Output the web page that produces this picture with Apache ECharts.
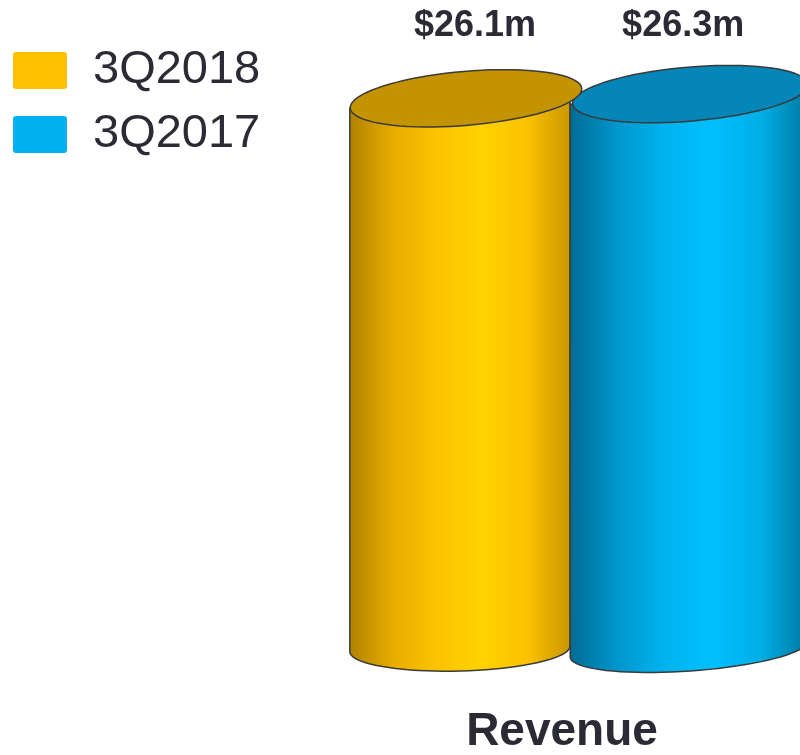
<!DOCTYPE html>
<html>
<head>
<meta charset="utf-8">
<script src="https://cdn.jsdelivr.net/npm/echarts@6/dist/echarts.min.js"></script>
<style>
  html, body { margin: 0; padding: 0; background: #fff; }
  #chart { width: 800px; height: 755px; }
</style>
</head>
<body>
<div id="chart"></div>
<script>
// data
const categories = ['Revenue']
const seriesNames = ['3Q2018', '3Q2017']
const revenue3Q2018 = [26.1]
const revenue3Q2017 = [26.3]

// look of each cylinder (offsets are fractions of the category band)
const cylStyle = [
    {
        color: '#ffc000', topColor: '#c39300', capOffset: -0.239, capHalf: 0.257,
        bodyLeft: -0.496, bodyRight: -0.009, topTilt: -4.9, bottomTilt: -1.5, z: 3,
        stops: ['#ae8200', '#e9ad00', '#fcc300', '#ffd200', '#fcc200', '#c99700']
    },
    {
        color: '#00b0f0', topColor: '#0487b8', capOffset: 0.257, capHalf: 0.261,
        bodyLeft: -0.009, bodyRight: 0.518, topTilt: -4.8, bottomTilt: -4, z: 2,
        stops: ['#006c93', '#0096cc', '#00b4ee', '#00bfff', '#00aee6', '#00779f']
    }
]
const textColor = '#2b2b36'
const font = 'Liberation Sans, Arial, sans-serif'

// points of a tilted ellipse from angle t0 to t1
function ellipsePts(cx, cy, a, b, deg, t0, t1, n) {
    let th = deg * Math.PI / 180
    let pts = []
    for (let i = 0; i <= n; i++) {
        let t = t0 + (t1 - t0) * i / n
        let x = cx + a * Math.cos(t) * Math.cos(th) - b * Math.sin(t) * Math.sin(th)
        let y = cy + a * Math.cos(t) * Math.sin(th) + b * Math.sin(t) * Math.cos(th)
        pts.push([x, y])
    }
    return pts
}

function makeRender(idx) {
    let st = cylStyle[idx]
    return function (params, api) {
        let base = api.coord([api.value(0), 0])
        let top = api.coord([api.value(0), api.value(1)])
        let labelY = api.coord([api.value(0), 30])[1] + 10
        let band = api.size([1, 0])[0]
        let mid = base[0]
        let cx = mid + band * st.capOffset
        let a = band * st.capHalf
        let x0 = mid + band * st.bodyLeft
        let x1 = mid + band * st.bodyRight
        let tan = Math.tan(st.topTilt * Math.PI / 180)
        let body = ellipsePts((x0 + x1) / 2, base[1], (x1 - x0) / 2, 22, st.bottomTilt, 0, Math.PI, 40)
        body.push([x0, top[1] + (x0 - cx) * tan])
        body.push([x1, top[1] + (x1 - cx) * tan])
        let cap = ellipsePts(cx, top[1], a, 27, st.topTilt, 0, 2 * Math.PI, 80)
        let n = st.stops.length
        return {
            type: 'group',
            children: [
                {
                    type: 'polygon',
                    shape: { points: body },
                    style: {
                        fill: {
                            type: 'linear', x: 0, y: 0, x2: 1, y2: 0,
                            colorStops: st.stops.map((c, i) => ({ offset: i / (n - 1), color: c }))
                        },
                        stroke: '#3a3a3a', lineWidth: 1.5
                    }
                },
                {
                    type: 'polygon',
                    shape: { points: cap },
                    style: { fill: st.topColor, stroke: '#3a3a3a', lineWidth: 1.5 }
                },
                {
                    type: 'text',
                    x: cx + (idx === 0 ? 9 : -7),
                    y: labelY,
                    style: {
                        text: '$' + api.value(1).toFixed(1) + 'm',
                        fill: textColor,
                        font: 'bold 36px ' + font,
                        align: 'center',
                        verticalAlign: 'middle'
                    }
                }
            ]
        }
    }
}

var dom = document.getElementById('chart')
var myChart = echarts.init(dom, null, { renderer: 'canvas' })

var option = {
    animation: false,
    legend: {
        orient: 'vertical',
        left: 13,
        top: 47,
        padding: 0,
        icon: 'path://M3,0H51A3,3,0,0,1,54,3V34A3,3,0,0,1,51,37H3A3,3,0,0,1,0,34V3A3,3,0,0,1,3,0Z',
        itemWidth: 54,
        itemHeight: 37,
        itemGap: 17,
        data: seriesNames,
        textStyle: {
            fontSize: 47,
            fontFamily: font,
            color: textColor,
            lineHeight: 37,
            padding: [6, 0, 0, 21]
        }
    },
    grid: { left: 348, right: 0, top: 16, bottom: 100 },
    xAxis: {
        type: 'category',
        data: categories,
        axisLine: { show: false },
        axisTick: { show: false },
        axisLabel: {
            margin: 60,
            fontSize: 46,
            fontWeight: 'bold',
            fontFamily: font,
            color: textColor,
            lineHeight: 46,
            padding: [0, 24, 0, 0]
        }
    },
    yAxis: {
        type: 'value',
        min: 0,
        max: 30,
        show: false
    },
    series: [
        {
            name: seriesNames[0],
            type: 'custom',
            z: cylStyle[0].z,
            itemStyle: { color: cylStyle[0].color },
            renderItem: makeRender(0),
            data: revenue3Q2018.map((v, i) => [i, v])
        },
        {
            name: seriesNames[1],
            type: 'custom',
            z: cylStyle[1].z,
            itemStyle: { color: cylStyle[1].color },
            renderItem: makeRender(1),
            data: revenue3Q2017.map((v, i) => [i, v])
        }
    ]
}

myChart.setOption(option)
window.addEventListener('resize', myChart.resize)
</script>
</body>
</html>
